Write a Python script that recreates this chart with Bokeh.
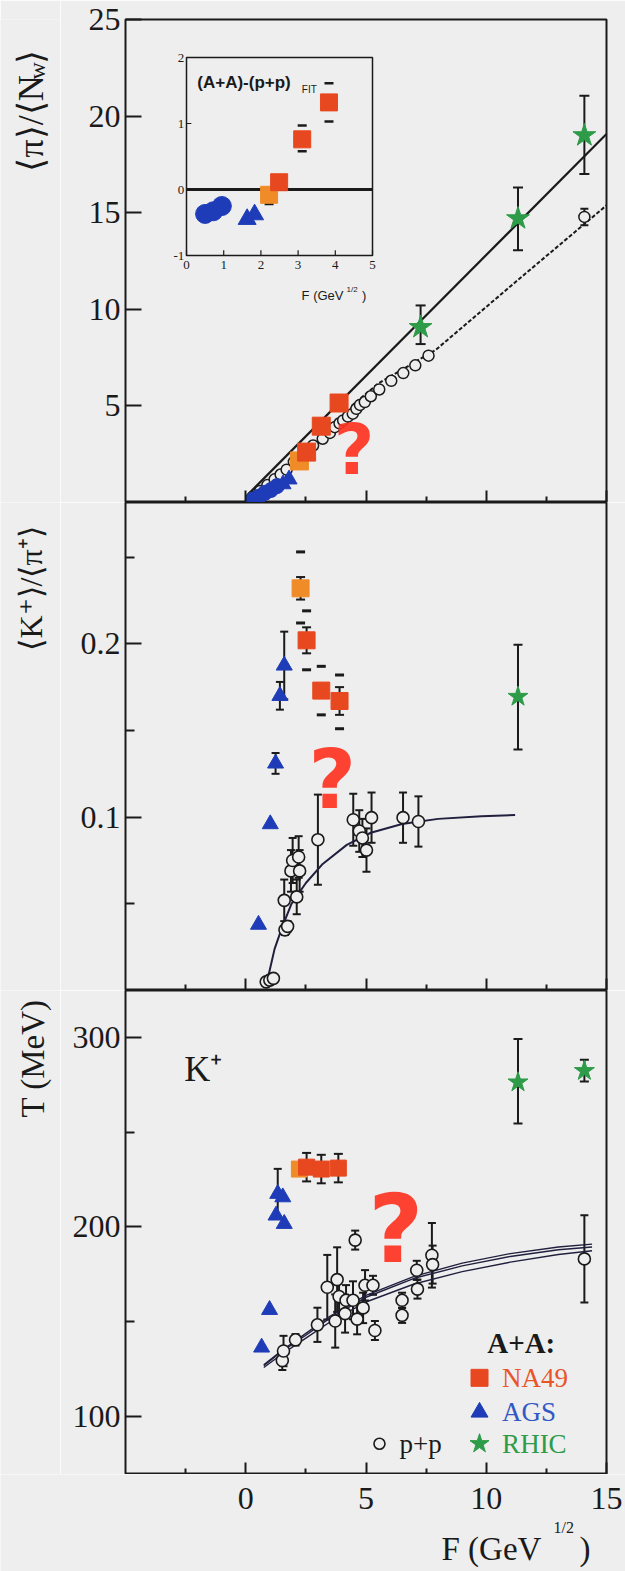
import math
from bokeh.plotting import figure
from bokeh.layouts import column, row
from bokeh.models import Range1d, FixedTicker, ColumnDataSource, Whisker, TeeHead
from bokeh.core.properties import value
from bokeh.embed import file_html
from bokeh.resources import INLINE

# ======================= DATA =======================
X_TICKS = [0, 5, 10, 15]
X_MINOR = [-2.5, 2.5, 7.5, 12.5]

# ---- panel 1 : <pi>/<N_w> ----
pi_na49_F = [2.53, 3.14, 3.88]
pi_na49_y = [2.61, 3.95, 5.15]
pi_na49new_F = [2.23]
pi_na49new_y = [2.15]
pi_sis_F = [0.3, 0.55, 0.8, 1.05, 1.3]
pi_sis_y = [0.15, 0.3, 0.5, 0.65, 0.85]
pi_ags_F = [1.55, 1.8]
pi_ags_y = [0.95, 1.2]
pi_rhic_F = [7.27, 11.32, 14.08]
pi_rhic_y = [9.07, 14.7, 19.0]
pi_rhic_lo = [8.2, 13.06, 17.0]
pi_rhic_hi = [10.2, 16.3, 21.05]
pi_pp_F = [0.3, 0.6, 0.9, 1.2, 1.45, 1.7, 2.0, 2.4, 2.8, 3.2, 3.5, 3.7, 3.9, 4.05,
           4.25, 4.45, 4.6, 4.75, 4.95, 5.2, 5.55, 6.05, 6.55, 7.05, 7.6, 14.08]
pi_pp_y = [0.3, 0.6, 0.9, 1.2, 1.45, 1.7, 2.1, 2.5, 2.95, 3.3, 3.6, 3.9, 4.1, 4.25,
           4.45, 4.6, 4.85, 5.05, 5.2, 5.5, 5.85, 6.3, 6.7, 7.1, 7.6, 14.78]
pi_pp_err_F = [14.08]
pi_pp_err_lo = [14.35]
pi_pp_err_hi = [15.2]
fit_aa_F = [0.0, 15.0]
fit_aa_y = [0.3, 19.07]
fit_pp_F = [4.4, 5.5, 7.9, 11.3, 15.0]
fit_pp_y = [5.0, 6.15, 7.9, 11.5, 15.38]

# ---- inset : (A+A)-(p+p)_FIT ----
INSET_X = [0, 5]
INSET_Y = [-1, 2]
ins_xticks = [0, 1, 2, 3, 4, 5]
ins_yticks = [-1, 0, 1, 2]
ins_sis_F = [0.5, 0.72, 0.95]
ins_sis_y = [-0.37, -0.33, -0.25]
ins_ags_F = [1.63, 1.83]
ins_ags_y = [-0.45, -0.38]
ins_na49new_F = [2.22]
ins_na49new_y = [-0.08]
ins_na49_F = [2.49, 3.11, 3.83]
ins_na49_y = [0.11, 0.76, 1.32]
ins_cap_F = [2.22, 3.11, 3.11, 3.83, 3.83]
ins_cap_y = [-0.22, 0.97, 0.58, 1.61, 1.03]

# ---- panel 2 : <K+>/<pi+> ----
k_na49new_F = [2.28]
k_na49new_y = [0.232]
k_na49new_stat = [0.0065]
k_na49new_syslo = [0.212]
k_na49new_syshi = [0.253]
k_na49_F = [2.53, 3.14, 3.9]
k_na49_y = [0.202, 0.173, 0.167]
k_na49_stat = [0.0075, 0.004, 0.008]
k_na49_syslo = [0.185, 0.159, 0.151]
k_na49_syshi = [0.219, 0.187, 0.182]
k_ags_F = [0.53, 1.02, 1.24, 1.42, 1.6]
k_ags_y = [0.038, 0.096, 0.131, 0.170, 0.1875]
k_ags_err = [0.0, 0.0, 0.006, 0.008, 0.0195]
k_rhic_F = [11.32]
k_rhic_y = [0.1695]
k_rhic_lo = [0.139]
k_rhic_hi = [0.1994]
k_pp_F = [0.85, 1.0, 1.15, 1.63, 1.74, 1.6, 1.88, 1.95, 2.2, 2.24, 2.12, 3.0,
          4.47, 4.72, 4.85, 5.02, 5.23, 6.54, 7.18]
k_pp_y = [0.005, 0.006, 0.007, 0.035, 0.037, 0.052, 0.069, 0.075, 0.077, 0.069, 0.054,
          0.087, 0.0985, 0.092, 0.088, 0.081, 0.0997, 0.0997, 0.0975]
k_pp_err = [0.001, 0.001, 0.001, 0.003, 0.003, 0.012, 0.012, 0.013, 0.012, 0.012, 0.01,
            0.026, 0.015, 0.012, 0.011, 0.0125, 0.0145, 0.0145, 0.0145]
k_fit_F = [0.85, 1.0, 1.2, 1.5, 1.9, 2.5, 3.2, 4.2, 5.2, 6.5, 8.0, 9.8, 11.2]
k_fit_y = [0.003, 0.012, 0.024, 0.036, 0.05, 0.062, 0.073, 0.084, 0.091, 0.096, 0.099,
           0.1005, 0.1012]

# ---- panel 3 : T (MeV) ----
t_na49new_F = [2.23]
t_na49new_y = [230.5]
t_na49_F = [2.53, 3.14, 3.85]
t_na49_y = [231.5, 230.5, 231.0]
t_na49_err = [7.5, 7.5, 7.5]
t_ags_F = [0.66, 0.99, 1.26, 1.33, 1.54, 1.6]
t_ags_y = [136.6, 156.4, 206.1, 217.5, 215.7, 201.7]
t_ags_err_F = [1.33]
t_ags_err_lo = [205.0]
t_ags_err_hi = [230.6]
t_rhic_F = [11.32, 14.08]
t_rhic_y = [276.2, 282.2]
t_rhic_lo = [254.5, 276.6]
t_rhic_hi = [299.0, 288.1]
t_pp_F = [1.52, 1.57, 2.07, 2.98, 3.39, 3.72, 3.80, 3.88, 4.13, 4.17, 4.46, 4.55,
          4.63, 4.88, 4.96, 5.29, 5.37, 6.50, 6.50, 7.11, 7.14, 7.74, 7.77, 14.08]
t_pp_y = [129.7, 134.7, 140.6, 148.5, 168.3, 150.5, 172.3, 163.4, 154.4, 161.4, 161.4,
          193.1, 151.5, 157.4, 169.3, 169.3, 145.5, 161.4, 153.5, 177.2, 167.3, 185.1,
          180.2, 183.2]
t_pp_err = [5, 8, 3, 9, 17, 14, 17, 10, 10, 8, 10, 5, 8, 8, 8, 5, 5, 4, 4, 5, 5, 17, 10, 23]
t_fitA_F = [0.75, 1.5, 2.5, 3.5, 5.0, 7.0, 9.0, 11.0, 13.0, 14.4]
t_fitA_y = [127.0, 134.5, 143.0, 152.0, 163.0, 173.0, 179.5, 184.5, 188.0, 189.5]
t_fitB_F = [0.75, 1.5, 2.5, 3.5, 5.0, 7.0, 9.0, 11.0, 13.0, 14.4]
t_fitB_y = [126.0, 133.0, 141.5, 150.0, 160.5, 170.0, 176.5, 181.5, 185.5, 187.5]
t_fitC_F = [0.75, 1.5, 2.5, 3.5, 5.0, 7.0, 9.0, 11.0, 13.0, 14.4]
t_fitC_y = [127.5, 135.0, 144.0, 153.0, 164.0, 174.0, 181.0, 186.0, 189.5, 191.0]

# ======================= STYLE / LAYOUT =======================
BG = "#eeeeee"
INK = "#1a1a1a"
RED = "#e8481f"
ORANGE = "#f08c28"
BLUE = "#1f3cb8"
GREEN = "#2e9b48"
NAVY = "#20203e"
QRED = "#ff3322"
SERIF = "Liberation Serif"
SANS = "Liberation Sans"

LAB_W = 60          # strip holding the rotated y titles
FRAME_W = 481
LEFT = 65           # border of the main figures (tick labels)
RIGHT = 19
TOTAL_W = LAB_W + LEFT + FRAME_W + RIGHT
X_RANGE = (-5, 15)
Y1 = (0, 25)
Y2 = (0, 0.2815)
Y3 = (69.7, 324.5)
H1_FRAME, H2_FRAME, H3_FRAME = 483, 488, 484
TOP1 = 19
BOT_H = 1571 - (TOP1 + H1_FRAME + H2_FRAME + H3_FRAME)
PX = (X_RANGE[1] - X_RANGE[0]) / FRAME_W      # data units per pixel along x


def base_fig(yr, fh, top, yticks, yminor):
    p = figure(frame_width=FRAME_W, frame_height=fh,
               x_range=Range1d(*X_RANGE), y_range=Range1d(*yr),
               output_backend="svg", toolbar_location=None,
               min_border_left=LEFT, min_border_right=RIGHT,
               min_border_top=top, min_border_bottom=0,
               background_fill_color=BG, border_fill_color=BG,
               outline_line_color=INK, outline_line_width=2)
    p.grid.visible = False
    for ax in (p.xaxis[0], p.yaxis[0]):
        ax.axis_line_color = None
        ax.major_tick_out = 0
        ax.minor_tick_out = 0
        ax.major_tick_line_color = INK
        ax.minor_tick_line_color = INK
        ax.major_tick_line_width = 2
        ax.minor_tick_line_width = 2
        ax.major_label_text_font = SERIF
        ax.major_label_text_font_size = "32px"
        ax.major_label_text_color = INK
    xa = p.xaxis[0]
    xa.ticker = FixedTicker(ticks=X_TICKS, minor_ticks=X_MINOR)
    xa.major_tick_in = 12
    xa.minor_tick_in = 6
    xa.major_label_overrides = {t: "" for t in X_TICKS}
    xa.major_label_text_font_size = "1px"
    xa.major_label_standoff = 0
    ya = p.yaxis[0]
    ya.ticker = FixedTicker(ticks=yticks, minor_ticks=yminor)
    ya.major_tick_in = 16
    ya.minor_tick_in = 9
    ya.major_label_standoff = 5
    return p


def strip_fig(w, h, xr=None):
    """plain canvas used for titles outside the frames"""
    s = figure(frame_width=w, frame_height=h,
               x_range=Range1d(*(xr if xr else (0, w))), y_range=Range1d(0, h),
               x_axis_type=None, y_axis_type=None, output_backend="svg",
               toolbar_location=None, min_border=0, outline_line_color=None,
               background_fill_color=BG, border_fill_color=BG)
    s.grid.visible = False
    return s


def errbars(p, xs, lo, hi, head=9, width=2):
    src = ColumnDataSource(dict(x=xs, lo=lo, hi=hi))
    w = Whisker(source=src, base="x", lower="lo", upper="hi", dimension="height",
                line_color=INK, line_width=width, level="underlay",
                upper_head=TeeHead(size=head, line_width=width, line_color=INK),
                lower_head=TeeHead(size=head, line_width=width, line_color=INK))
    p.add_layout(w)


def vtext(s, x, y, text, size, align="left"):
    s.text(x=[x], y=[y], text=[text], angle=math.pi / 2, text_align=align,
           text_baseline="middle", text_font=value(SERIF), text_font_size=f"{size}px",
           text_color=INK)


def qmark(p, x, y, size):
    p.text(x=[x], y=[y], text=["?"], text_align="center", text_baseline="middle",
           text_font=value("DejaVu Sans"), text_font_style="bold",
           text_font_size=f"{size}px", text_color=QRED, text_alpha=0.92)


# ======================= PANEL 1 =======================
p1 = base_fig(Y1, H1_FRAME, TOP1, [5, 10, 15, 20, 25], [])
p1.line(fit_aa_F, fit_aa_y, line_color=INK, line_width=2.2)
p1.line(fit_pp_F, fit_pp_y, line_color=INK, line_width=2, line_dash="4 2")
errbars(p1, pi_rhic_F, pi_rhic_lo, pi_rhic_hi, head=10)
errbars(p1, pi_pp_err_F, pi_pp_err_lo, pi_pp_err_hi, head=8)
p1.scatter(pi_pp_F, pi_pp_y, marker="circle", size=11, fill_color=BG, line_color=INK, line_width=1.5)
p1.scatter(pi_sis_F, pi_sis_y, marker="circle", size=15, fill_color=BLUE, line_color=BLUE)
p1.scatter(pi_ags_F, pi_ags_y, marker="triangle", size=16, fill_color=BLUE, line_color=BLUE)
p1.scatter(pi_na49new_F, pi_na49new_y, marker="square", size=18, fill_color=ORANGE, line_color=ORANGE)
p1.scatter(pi_na49_F, pi_na49_y, marker="square", size=18, fill_color=RED, line_color=RED)
p1.scatter(pi_rhic_F, pi_rhic_y, marker="star", size=24, fill_color=GREEN, line_color=GREEN)
qmark(p1, 4.5, 2.7, 70)

# ---- inset via extra ranges ----
p1.extra_x_ranges = {"ix": Range1d(-1.6398, 11.290)}
p1.extra_y_ranges = {"iy": Range1d(-4.7424, 2.5758)}
ins = dict(x_range_name="ix", y_range_name="iy")
p1.quad(left=[INSET_X[0]], right=[INSET_X[1]], bottom=[INSET_Y[0]], top=[INSET_Y[1]],
        fill_color=BG, line_color=INK, line_width=1.5, **ins)
p1.segment(x0=ins_xticks, x1=ins_xticks, y0=[INSET_Y[0]] * 6, y1=[INSET_Y[0] + 0.08] * 6,
           line_color=INK, line_width=1.2, **ins)
p1.segment(x0=[INSET_X[0]] * 4, x1=[INSET_X[0] + 0.13] * 4, y0=ins_yticks, y1=ins_yticks,
           line_color=INK, line_width=1.2, **ins)
p1.text(x=ins_xticks, y=[INSET_Y[0] - 0.08] * 6, text=[str(t) for t in ins_xticks],
        text_align="center", text_baseline="top", text_font=value(SERIF),
        text_font_size="13px", text_color=INK, **ins)
p1.text(x=[INSET_X[0] - 0.06] * 4, y=ins_yticks, text=[str(t) for t in ins_yticks],
        text_align="right", text_baseline="middle", text_font=value(SERIF),
        text_font_size="13px", text_color=INK, **ins)
p1.segment(x0=[INSET_X[0]], x1=[INSET_X[1]], y0=[0], y1=[0], line_color=INK, line_width=3, **ins)
p1.scatter(ins_cap_F, ins_cap_y, marker="dash", size=9, line_color=INK, line_width=2.5, **ins)
p1.scatter(ins_sis_F, ins_sis_y, marker="circle", size=19, fill_color=BLUE, line_color=BLUE, **ins)
p1.scatter(ins_ags_F, ins_ags_y, marker="triangle", size=18, fill_color=BLUE, line_color=BLUE, **ins)
p1.scatter(ins_na49new_F, ins_na49new_y, marker="square", size=17, fill_color=ORANGE, line_color=ORANGE, **ins)
p1.scatter(ins_na49_F, ins_na49_y, marker="square", size=17, fill_color=RED, line_color=RED, **ins)
p1.text(x=[0.29], y=[1.62], text=["(A+A)-(p+p)"], text_baseline="middle",
        text_font=value(SANS), text_font_style="bold", text_font_size="17px",
        text_color=INK, **ins)
p1.text(x=[3.1], y=[1.52], text=["FIT"], text_baseline="middle",
        text_font=value(SANS), text_font_size="10px", text_color=INK, **ins)
p1.text(x=[4.22], y=[-1.6], text=["F (GeV"], text_align="right", text_baseline="middle",
        text_font=value(SANS), text_font_size="13px", text_color=INK, **ins)
p1.text(x=[4.3], y=[-1.52], text=["1/2"], text_baseline="middle",
        text_font=value(SANS), text_font_size="8px", text_color=INK, **ins)
p1.text(x=[4.72], y=[-1.6], text=[")"], text_baseline="middle",
        text_font=value(SANS), text_font_size="13px", text_color=INK, **ins)

s1 = strip_fig(LAB_W, TOP1 + H1_FRAME)
vtext(s1, 30, 350, "⟨π⟩/⟨N", 36)
vtext(s1, 36, 442, "w", 24)
vtext(s1, 30, 458, "⟩", 36)

# ======================= PANEL 2 =======================
p2 = base_fig(Y2, H2_FRAME, 0, [0.1, 0.2], [0.05, 0.15, 0.25])
p2.line(k_fit_F, k_fit_y, line_color=NAVY, line_width=2)
k_pp_lo = [a - b for a, b in zip(k_pp_y, k_pp_err)]
k_pp_hi = [a + b for a, b in zip(k_pp_y, k_pp_err)]
errbars(p2, k_pp_F, k_pp_lo, k_pp_hi, head=8)
k_ags_lo = [a - b for a, b in zip(k_ags_y, k_ags_err)]
k_ags_hi = [a + b for a, b in zip(k_ags_y, k_ags_err)]
errbars(p2, k_ags_F, k_ags_lo, k_ags_hi, head=8)
errbars(p2, k_rhic_F, k_rhic_lo, k_rhic_hi, head=9)
k_nn_lo = [a - b for a, b in zip(k_na49new_y, k_na49new_stat)]
k_nn_hi = [a + b for a, b in zip(k_na49new_y, k_na49new_stat)]
k_n_lo = [a - b for a, b in zip(k_na49_y, k_na49_stat)]
k_n_hi = [a + b for a, b in zip(k_na49_y, k_na49_stat)]
errbars(p2, k_na49new_F, k_nn_lo, k_nn_hi, head=9)
errbars(p2, k_na49_F, k_n_lo, k_n_hi, head=9)
p2.scatter(k_na49new_F * 2, k_na49new_syslo + k_na49new_syshi, marker="dash", size=9,
           line_color=INK, line_width=3)
p2.scatter(k_na49_F * 2, k_na49_syslo + k_na49_syshi, marker="dash", size=9,
           line_color=INK, line_width=3)
p2.scatter(k_pp_F, k_pp_y, marker="circle", size=12, fill_color=BG, line_color=INK, line_width=1.6)
p2.scatter(k_ags_F, k_ags_y, marker="triangle", size=16, fill_color=BLUE, line_color=BLUE)
p2.scatter(k_na49new_F, k_na49new_y, marker="square", size=17, fill_color=ORANGE, line_color=ORANGE)
p2.scatter(k_na49_F, k_na49_y, marker="square", size=17, fill_color=RED, line_color=RED)
p2.scatter(k_rhic_F, k_rhic_y, marker="star", size=21, fill_color=GREEN, line_color=GREEN)
qmark(p2, 3.6, 0.122, 82)

s2 = strip_fig(LAB_W, H2_FRAME)
vtext(s2, 30, 402, "⟨K⁺⟩/⟨π⁺⟩", 32, align="center")

# ======================= PANEL 3 =======================
p3 = base_fig(Y3, H3_FRAME, 0, [100, 200, 300], [150, 250])
for fx, fy in ((t_fitA_F, t_fitA_y), (t_fitB_F, t_fitB_y), (t_fitC_F, t_fitC_y)):
    p3.line(fx, fy, line_color=NAVY, line_width=1.4)
t_pp_lo = [a - b for a, b in zip(t_pp_y, t_pp_err)]
t_pp_hi = [a + b for a, b in zip(t_pp_y, t_pp_err)]
errbars(p3, t_pp_F, t_pp_lo, t_pp_hi, head=8)
errbars(p3, t_rhic_F, t_rhic_lo, t_rhic_hi, head=9)
errbars(p3, t_ags_err_F, t_ags_err_lo, t_ags_err_hi, head=8)
t_n_lo = [a - b for a, b in zip(t_na49_y, t_na49_err)]
t_n_hi = [a + b for a, b in zip(t_na49_y, t_na49_err)]
errbars(p3, t_na49_F, t_n_lo, t_n_hi, head=9)
p3.scatter(t_pp_F, t_pp_y, marker="circle", size=12, fill_color=BG, line_color=INK, line_width=1.6)
p3.scatter(t_ags_F, t_ags_y, marker="triangle", size=16, fill_color=BLUE, line_color=BLUE)
p3.scatter(t_na49new_F, t_na49new_y, marker="square", size=16, fill_color=ORANGE, line_color=ORANGE)
p3.scatter(t_na49_F, t_na49_y, marker="square", size=16, fill_color=RED, line_color=RED)
p3.scatter(t_rhic_F, t_rhic_y, marker="star", size=21, fill_color=GREEN, line_color=GREEN)
qmark(p3, 6.24, 199, 95)
p3.text(x=[-2.56], y=[283], text=["K⁺"], text_baseline="middle", text_font=value(SERIF),
        text_font_size="36px", text_color=INK)

# legend (manual)
LEG_MARK_X = 9.72
LEG_TEXT_X = 10.66
p3.text(x=[10.04], y=[138.7], text=["A+A:"], text_baseline="middle", text_font=value(SERIF),
        text_font_style="bold", text_font_size="29px", text_color=INK)
p3.scatter([LEG_MARK_X], [120.6], marker="square", size=17, fill_color=RED, line_color=RED)
p3.scatter([LEG_MARK_X], [102.5], marker="triangle", size=17, fill_color=BLUE, line_color=BLUE)
p3.scatter([LEG_MARK_X], [85.9], marker="star", size=20, fill_color=GREEN, line_color=GREEN)
p3.scatter([5.56], [85.9], marker="circle", size=11, fill_color=BG, line_color=INK, line_width=1.6)
p3.text(x=[LEG_TEXT_X] * 3, y=[120.6, 102.5, 85.9], text=["NA49", "AGS", "RHIC"],
        text_baseline="middle", text_font=value(SERIF), text_font_size="27px",
        text_color=["#e8552a", "#3358c4", "#2e9b48"])
p3.text(x=[6.39], y=[85.9], text=["p+p"], text_baseline="middle", text_font=value(SERIF),
        text_font_size="27px", text_color=INK)

s3 = strip_fig(LAB_W, H3_FRAME)
vtext(s3, 32, 416, "T (MeV)", 33, align="center")

# ---- bottom strip: x tick labels (through the shared x scale) + x title ----
xb = strip_fig(TOTAL_W, BOT_H,
               xr=(X_RANGE[0] - (LAB_W + LEFT) * PX, X_RANGE[1] + RIGHT * PX))
xb.text(x=X_TICKS, y=[BOT_H - 24] * len(X_TICKS), text=[str(t) for t in X_TICKS],
        text_align="center", text_baseline="middle", text_font=value(SERIF),
        text_font_size="32px", text_color=INK)
xb.text(x=[X_RANGE[1]], y=[23], x_offset=-165, text=["F (GeV"], text_baseline="middle",
        text_font=value(SERIF), text_font_size="33px", text_color=INK)
xb.text(x=[X_RANGE[1]], y=[44], x_offset=-53, text=["1/2"], text_baseline="middle",
        text_font=value(SERIF), text_font_size="16px", text_color=INK)
xb.text(x=[X_RANGE[1]], y=[23], x_offset=-27, text=[")"], text_baseline="middle",
        text_font=value(SERIF), text_font_size="33px", text_color=INK)

layout = column(row(s1, p1, spacing=0), row(s2, p2, spacing=0), row(s3, p3, spacing=0), xb,
                spacing=0)
open("out.html", "w").write(file_html(layout, INLINE, "chart"))
